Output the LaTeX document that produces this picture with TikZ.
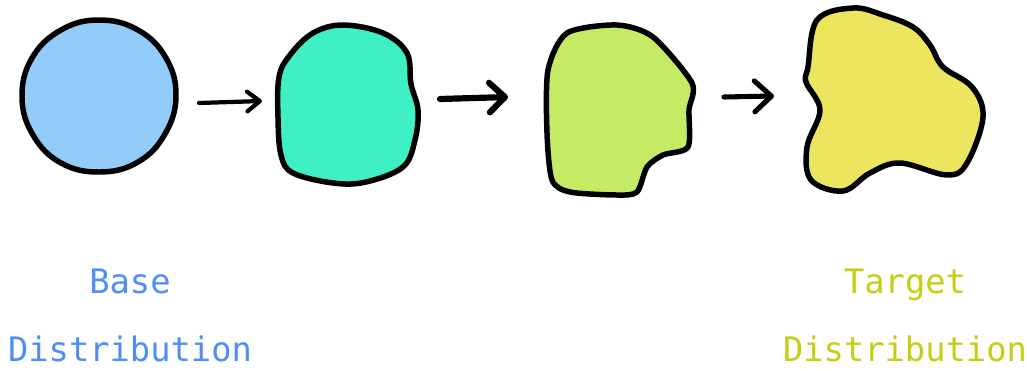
\documentclass[tikz,border=0pt]{standalone}
\usepackage{fontspec}
\setmonofont{DejaVu Sans Mono}
\usetikzlibrary{arrows.meta}
\definecolor{basefill}{HTML}{92CCFA}
\definecolor{stepafill}{HTML}{3EF0C3}
\definecolor{stepbfill}{HTML}{C4EB63}
\definecolor{targetfill}{HTML}{ECE55E}
\definecolor{baseink}{HTML}{4E8EF7}
\definecolor{targetink}{HTML}{C5CE12}
\begin{document}
\begin{tikzpicture}[x=0.025cm,y=-0.025cm,line cap=round,line join=round,
    blob/.style={draw=black,line width=3.9pt},
    flowarrow/.style={draw=black,line width=#1},
    lbl/.style={font=\ttfamily\fontsize{24}{28}\selectfont,anchor=base,inner sep=0pt}]
  \useasboundingbox (0,0) rectangle (1027,370);
  \filldraw[blob,fill=basefill] plot[smooth cycle,tension=0.7] coordinates
    {(176,96) (166,58) (138,30) (99,20) (61,30) (32,58) (22,97) (33,135)
     (61,163) (100,172) (138,162) (165,134)};
  \filldraw[blob,fill=stepafill] plot[smooth cycle,tension=0.6] coordinates
    {(343,25) (383,33) (407,53) (411,84) (418,110) (415,140) (403,167) (366,182)
     (333,183) (293,173) (281,155) (278,118) (279,77) (290,55) (313,33)};
  \filldraw[blob,fill=stepbfill] plot[smooth cycle,tension=0.45] coordinates
    {(617,25) (653,37) (692,83) (689,110) (688,147) (663,155) (647,167)
     (637,192) (617,195) (570,192) (552,180) (547,133) (548,70) (567,33)};
  \filldraw[blob,fill=targetfill] plot[smooth cycle,tension=0.6] coordinates
    {(853,8) (883,15) (913,27) (930,45) (943,67) (972,87) (983,117) (967,163)
     (947,175) (900,163) (870,173) (843,191) (811,180) (807,147) (820,110)
     (806,82) (808,67) (817,20)};
  \coordinate (a1) at (199,103);
  \coordinate (b1) at (262,101);
  \coordinate (a2) at (440,99);
  \coordinate (b2) at (508,97);
  \coordinate (a3) at (724,97);
  \coordinate (b3) at (774,96);
  \draw[flowarrow=3pt,-{Straight Barb[length=9pt,width=14pt,round]}] (a1) -- (b1);
  \draw[flowarrow=4.4pt,-{Straight Barb[length=11pt,width=21pt,round]}] (a2) -- (b2);
  \draw[flowarrow=3.6pt,-{Straight Barb[length=12pt,width=22pt,round]}] (a3) -- (b3);
  \node[lbl,text=baseink] (basetop) at (130,293) {Base};
  \node[lbl,text=baseink] (basebot) at (130,361) {Distribution};
  \node[lbl,text=targetink] (targettop) at (905,293) {Target};
  \node[lbl,text=targetink] (targetbot) at (905,361) {Distribution};
\end{tikzpicture}
\end{document}
